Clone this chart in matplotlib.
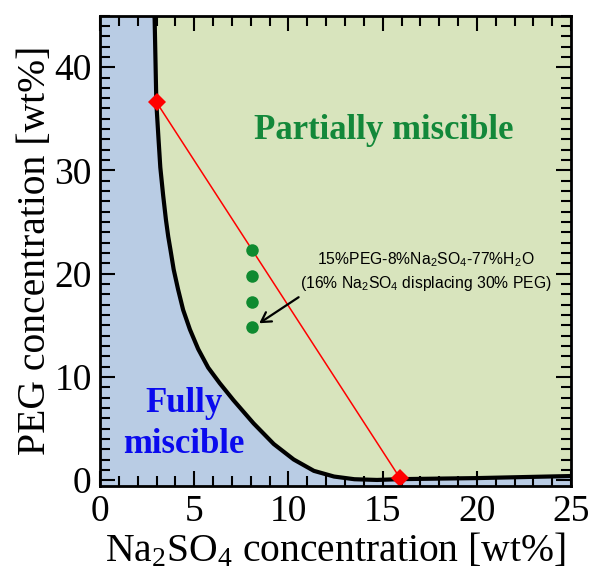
import matplotlib
matplotlib.use("Agg")
import matplotlib.pyplot as plt
import numpy as np

# binodal curve
binodal_x = [2.88, 2.9, 2.99, 3.1, 3.2, 3.35, 3.5, 3.62, 3.74, 3.91, 4.14, 4.41, 4.77,
             5.21, 5.74, 6.35, 7.08, 8.15, 9.22, 10.28, 11.35, 12.42, 13.5, 14.7,
             16.0, 18.0, 20.0, 22.5, 25.0]
binodal_y = [45.5, 44.6, 36.5, 33.2, 30.3, 27.6, 25.2, 23.6, 22.3, 20.4, 18.5, 16.5, 14.6,
             12.7, 10.9, 9.4, 7.75, 5.5, 3.5, 2.0, 0.9, 0.35, 0.09, 0.02,
             0.1, 0.15, 0.2, 0.3, 0.4]

# tie line end points
tie_x = [3.0, 15.9]
tie_y = [36.6, 0.25]

# sample compositions
sample_x = [8.05, 8.05, 8.05, 8.05]
sample_y = [22.3, 19.8, 17.3, 14.8]

blue_bg = "#b9cce4"
green_bg = "#d8e4bd"

fig = plt.figure(figsize=(5.9, 5.77), dpi=100)
ax = fig.add_axes([0.1695, 0.158, 0.7985, 0.815])
ax.set_facecolor(blue_bg)

ax.fill_between(binodal_x, binodal_y, 46, color=green_bg, lw=0, zorder=1)
ax.plot(binodal_x, binodal_y, color="black", lw=3, zorder=3,
        solid_joinstyle="round")

ax.plot(tie_x, tie_y, color="red", lw=1.1, zorder=4)
ax.plot(tie_x, tie_y, ls="none", marker="D", ms=9, color="red",
        markeredgewidth=0, zorder=5)

ax.plot(sample_x, sample_y, ls="none", marker="o", ms=9, color="#0f8a30",
        markeredgewidth=0, zorder=5)

serif = "Liberation Serif"
ax.text(15.05, 33.9, "Partially miscible", color="#13883a", fontsize=25,
        fontweight="bold", family=serif, ha="center", va="center", zorder=6)
ax.text(4.45, 5.4, "Fully\nmiscible", color="#0a0aee", fontsize=25,
        fontweight="bold", family=serif, ha="center", va="center",
        linespacing=1.32, zorder=6)

ax.annotate("15%PEG-8%Na$\\mathregular{_2}$SO$\\mathregular{_4}$-77%H$\\mathregular{_2}$O\n"
            "(16% Na$\\mathregular{_2}$SO$\\mathregular{_4}$ displacing 30% PEG)",
            xy=(8.45, 15.2), xytext=(17.3, 20.2), fontsize=11.3,
            family="Liberation Sans", ha="center", va="center",
            linespacing=1.35,
            arrowprops=dict(arrowstyle="->,head_length=0.6,head_width=0.35",
                            color="black", lw=1.6, shrinkA=2, shrinkB=0,
                            relpos=(0.02, 0.0)),
            zorder=6)

ax.set_xlim(0, 25)
ax.set_ylim(-0.55, 45)
ax.set_xticks([0, 5, 10, 15, 20, 25])
ax.set_yticks([0, 10, 20, 30, 40])
ax.set_xticks(np.arange(0, 26, 1), minor=True)
ax.set_yticks(np.arange(0, 46, 1), minor=True)
ax.tick_params(which="both", direction="in", top=True, right=True,
               width=1.5, labelsize=27, pad=6)
ax.tick_params(which="major", length=11)
ax.tick_params(which="minor", length=7)
for lab in ax.get_xticklabels() + ax.get_yticklabels():
    lab.set_family(serif)
for s in ax.spines.values():
    s.set_linewidth(2)
    s.set_zorder(7)

ax.set_xlabel("Na$\\mathregular{_2}$SO$\\mathregular{_4}$ concentration [wt%]",
              fontsize=28.5, family=serif, labelpad=2)
ax.set_ylabel("PEG concentration [wt%]", fontsize=28.5, family=serif,
              labelpad=0)

fig.savefig("out.png", dpi=100)
